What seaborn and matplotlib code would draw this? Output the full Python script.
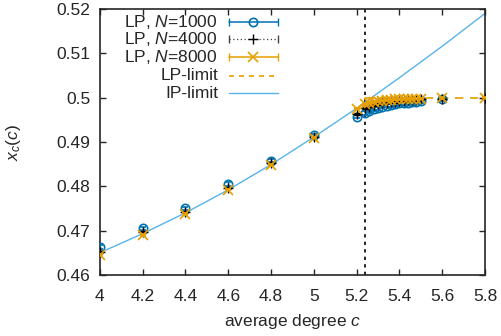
import matplotlib
matplotlib.use("Agg")
import matplotlib.pyplot as plt
import seaborn as sns
import pandas as pd

# degree values
c_main = [4.0, 4.2, 4.4, 4.6, 4.8, 5.0, 5.2, 5.24, 5.26, 5.28, 5.30, 5.32, 5.34, 5.36,
          5.38, 5.40, 5.42, 5.44, 5.46, 5.48, 5.50, 5.6]
c_8000 = c_main + [5.8]

x_1000 = [0.4663, 0.4705, 0.4750, 0.4805, 0.4858, 0.4915, 0.4957, 0.4965, 0.4970, 0.4974,
          0.4977, 0.4980, 0.4982, 0.4984, 0.4986, 0.4987, 0.4988, 0.4989, 0.4990, 0.4991,
          0.4992, 0.4997]
x_4000 = [0.4652, 0.4696, 0.4742, 0.4796, 0.4852, 0.4912, 0.4963, 0.4976, 0.4980, 0.4983,
          0.4986, 0.4988, 0.4989, 0.4990, 0.4991, 0.4992, 0.4993, 0.4994, 0.4995, 0.4995,
          0.4996, 0.4998, 0.5000]
x_8000 = [0.4645, 0.4690, 0.4737, 0.4792, 0.4848, 0.4910, 0.4975, 0.4985, 0.4988, 0.4990,
          0.4992, 0.4993, 0.4994, 0.4995, 0.4996, 0.4996, 0.4997, 0.4997, 0.4997, 0.4998,
          0.4998, 0.4999, 0.5000]
err_1000 = 0.0004
err_4000 = 0.0002
err_8000 = 0.00015

c_star = 5.24
lp_c = [5.24, 5.8]
lp_x = [0.5, 0.5]

ip_c = [4.0, 4.2, 4.4, 4.6, 4.8, 5.0, 5.2, 5.4, 5.6, 5.8]
ip_x = [0.4650, 0.4693, 0.4740, 0.4792, 0.4849, 0.4911, 0.4976, 0.5045, 0.5116, 0.5190]

labels = ["LP, $N$=1000", "LP, $N$=4000", "LP, $N$=8000", "LP-limit", "IP-limit"]

blue = "#0072b2"
orange = "#e69f00"
sky = "#56b4e9"

sns.set_style("ticks")
plt.rcParams['font.family'] = ['Liberation Sans', 'DejaVu Sans']
plt.rcParams['mathtext.fontset'] = 'custom'
plt.rcParams['mathtext.rm'] = 'Liberation Sans'
plt.rcParams['mathtext.it'] = 'Liberation Sans:italic'
plt.rcParams['font.size'] = 12.5

fig, ax = plt.subplots(figsize=(5.02, 3.36), dpi=100)
fig.subplots_adjust(left=0.199, right=0.966, top=0.973, bottom=0.182)

ip_df = pd.DataFrame({"c": ip_c, "x": ip_x})
sns.lineplot(data=ip_df, x="c", y="x", color=sky, lw=1.0, ax=ax, zorder=2)
ax.plot(lp_c, lp_x, color=orange, ls=(0, (5, 4)), lw=1.2, zorder=2)

ax.errorbar(c_main, x_1000, yerr=err_1000, fmt="o", ms=6, mfc="none", mec=blue, mew=1.2,
            ecolor=blue, elinewidth=1, capsize=2, zorder=3)
ax.errorbar(c_8000, x_4000, yerr=err_4000, fmt="+", ms=6.5, color="black", mew=1,
            ecolor="black", elinewidth=1, capsize=2, zorder=4)
ax.errorbar(c_8000, x_8000, yerr=err_8000, fmt="x", ms=6.5, color=orange, mew=1.2,
            ecolor=orange, elinewidth=1, capsize=2, zorder=5)

ax.axvline(c_star, color="black", ls=(0, (2, 2.5)), lw=1.2, zorder=1)

ax.set_xlim(4, 5.8)
ax.set_ylim(0.46, 0.52)
ax.set_xticks([4, 4.2, 4.4, 4.6, 4.8, 5, 5.2, 5.4, 5.6, 5.8])
ax.set_xticklabels(["4", "4.2", "4.4", "4.6", "4.8", "5", "5.2", "5.4", "5.6", "5.8"])
ax.set_yticks([0.46, 0.47, 0.48, 0.49, 0.5, 0.51, 0.52])
ax.set_yticklabels(["0.46", "0.47", "0.48", "0.49", "0.5", "0.51", "0.52"])
ax.tick_params(direction="in", top=True, right=True, length=4.5, width=1)
ax.tick_params(axis="x", pad=10)
ax.tick_params(axis="y", pad=7)
for s in ax.spines.values():
    s.set_linewidth(1.2)
    s.set_visible(True)

ax.set_xlabel("average degree $c$", labelpad=6)
ax.set_ylabel("$x_c(c)$", labelpad=24)

# gnuplot-style key: right-aligned text, sample line with error-bar caps
styles = [
    dict(color=blue, ls="-", lw=1.1, marker="o", mfc="none", ms=6, mew=1.2, caps=True),
    dict(color="#444444", ls=(0, (1, 2)), lw=0.9, marker="+", mfc="black", ms=6.5, mew=1, caps=True),
    dict(color=orange, ls="-", lw=1.1, marker="x", mfc=orange, ms=6.5, mew=1.2, caps=True),
    dict(color=orange, ls=(0, (3, 3)), lw=1.2, marker=None, mfc=None, ms=0, mew=0, caps=False),
    dict(color=sky, ls="-", lw=1.0, marker=None, mfc=None, ms=0, mew=0, caps=False),
]
tr = ax.transAxes
row_y = [0.952, 0.886, 0.818, 0.749, 0.683]
for lab, st, yy in zip(labels, styles, row_y):
    ax.text(0.3065, yy, lab, ha="right", va="center", transform=tr)
    ax.plot([0.335, 0.4623], [yy, yy], color=st["color"], ls=st["ls"], lw=st["lw"],
            transform=tr, clip_on=False)
    if st["caps"]:
        ax.plot([0.335, 0.4623], [yy, yy], ls="none", marker="|", ms=6, mew=1.0,
                color=st["color"], transform=tr, clip_on=False)
    if st["marker"]:
        mc = "black" if st["marker"] == "+" else st["color"]
        ax.plot([0.3987], [yy], ls="none", marker=st["marker"], ms=st["ms"],
                mfc="none" if st["marker"] == "o" else mc,
                mec=mc, mew=st["mew"], transform=tr, clip_on=False)

fig.savefig("out.png", dpi=100)
